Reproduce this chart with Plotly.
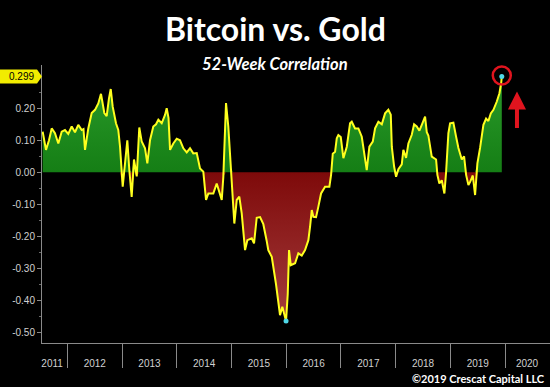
import plotly.graph_objects as go

# ---- data (decimal year, 52-week correlation) ----
years = [2011.548, 2011.609, 2011.664, 2011.713, 2011.773, 2011.834, 2011.896, 2011.956,
         2012.016, 2012.079, 2012.139, 2012.199, 2012.261, 2012.294, 2012.322, 2012.382,
         2012.444, 2012.505, 2012.565, 2012.614, 2012.675, 2012.718, 2012.760, 2012.792,
         2012.828, 2012.888, 2012.930, 2012.962, 2013.011, 2013.047, 2013.095, 2013.132,
         2013.175, 2013.217, 2013.267, 2013.314, 2013.358, 2013.419, 2013.461, 2013.510,
         2013.570, 2013.620, 2013.662, 2013.724, 2013.784, 2013.815, 2013.848, 2013.876,
         2013.936, 2013.998, 2014.058, 2014.119, 2014.181, 2014.241, 2014.301, 2014.364,
         2014.424, 2014.484, 2014.534, 2014.576, 2014.667, 2014.729, 2014.758, 2014.821,
         2014.850, 2014.899, 2014.941, 2014.985, 2015.022, 2015.051, 2015.095, 2015.142,
         2015.186, 2015.216, 2015.247, 2015.289, 2015.369, 2015.411, 2015.460, 2015.521,
         2015.581, 2015.640, 2015.672, 2015.735, 2015.777, 2015.813, 2015.855, 2015.886,
         2015.928, 2015.965, 2015.996, 2016.027, 2016.051, 2016.082, 2016.161, 2016.221,
         2016.283, 2016.343, 2016.404, 2016.435, 2016.466, 2016.495, 2016.544, 2016.586,
         2016.636, 2016.709, 2016.788, 2016.819, 2016.850, 2016.892, 2016.923, 2016.952,
         2016.996, 2017.044, 2017.106, 2017.166, 2017.197, 2017.257, 2017.318, 2017.380,
         2017.422, 2017.471, 2017.519, 2017.581, 2017.623, 2017.684, 2017.746, 2017.806,
         2017.866, 2017.910, 2017.929, 2017.971, 2018.007, 2018.049, 2018.111, 2018.140,
         2018.190, 2018.232, 2018.294, 2018.336, 2018.385, 2018.433, 2018.477, 2018.537,
         2018.568, 2018.597, 2018.659, 2018.689, 2018.738, 2018.762, 2018.798, 2018.842,
         2018.890, 2018.921, 2018.963, 2018.994, 2019.054, 2019.104, 2019.146, 2019.208,
         2019.250, 2019.287, 2019.329, 2019.360, 2019.409, 2019.451, 2019.493, 2019.542,
         2019.603, 2019.652, 2019.694, 2019.738, 2019.786, 2019.848, 2019.896, 2019.927,
         2019.939]
corr = [0.127, 0.070, 0.100, 0.137, 0.122, 0.090, 0.127, 0.132,
        0.120, 0.143, 0.125, 0.148, 0.132, 0.135, 0.070, 0.137,
        0.185, 0.195, 0.215, 0.245, 0.185, 0.175, 0.231, 0.260,
        0.205, 0.153, 0.132, 0.080, -0.045, 0.018, 0.100, 0.007,
        -0.077, 0.040, -0.013, 0.140, 0.096, 0.075, 0.028, 0.100,
        0.143, 0.150, 0.164, 0.153, 0.179, 0.200, 0.170, 0.070,
        0.090, 0.105, 0.100, 0.075, 0.062, 0.075, 0.059, 0.060,
        0.012, 0.002, -0.086, -0.066, -0.066, -0.035, -0.050, -0.086,
        -0.014, 0.216, 0.143, 0.017, -0.076, -0.160, -0.086, -0.076,
        -0.128, -0.190, -0.243, -0.212, -0.206, -0.222, -0.142, -0.140,
        -0.162, -0.212, -0.243, -0.264, -0.305, -0.350, -0.405, -0.446,
        -0.420, -0.440, -0.464, -0.380, -0.243, -0.290, -0.284, -0.253,
        -0.260, -0.243, -0.212, -0.170, -0.118, -0.139, -0.140, -0.108,
        -0.066, -0.045, -0.045, -0.008, 0.058, 0.064, 0.106, 0.116,
        0.110, 0.044, 0.080, 0.153, 0.158, 0.137, 0.137, 0.111,
        0.059, 0.007, 0.080, 0.096, 0.137, 0.158, 0.150, 0.184,
        0.195, 0.180, 0.080, 0.018, -0.014, 0.010, 0.025, 0.070,
        0.045, 0.090, 0.117, 0.150, 0.143, 0.130, 0.148, 0.174,
        0.125, 0.115, 0.049, 0.045, 0.040, -0.008, -0.035, -0.025,
        -0.066, 0.000, 0.122, 0.153, 0.155, 0.111, 0.076, 0.040,
        0.050, -0.008, -0.040, -0.030, -0.010, -0.071, 0.028, 0.076,
        0.148, 0.168, 0.160, 0.184, 0.195, 0.221, 0.247, 0.278,
        0.299]

year_bounds = [2012, 2013, 2014, 2015, 2016, 2017, 2018, 2019, 2020]
x_label_pos = [2011.72, 2012.5, 2013.5, 2014.5, 2015.5, 2016.5, 2017.5, 2018.5, 2019.5, 2020.4]
x_label_text = ["2011", "2012", "2013", "2014", "2015", "2016", "2017", "2018", "2019", "2020"]
y_tick_vals = [0.2, 0.1, 0.0, -0.1, -0.2, -0.3, -0.4, -0.5]
y_tick_text = ["0.20", "0.10", "0.00", "-0.10", "-0.20", "-0.30", "-0.40", "-0.50"]

pos = [max(v, 0.0) for v in corr]
neg = [min(v, 0.0) for v in corr]
i_min = corr.index(min(corr))

fig = go.Figure()
fig.add_trace(go.Scatter(
    x=years, y=pos, mode="none", fill="tozeroy", hoverinfo="skip",
    fillgradient=dict(type="vertical", colorscale=[[0, "#157e15"], [1, "#2a9a2a"]]),
))
fig.add_trace(go.Scatter(
    x=years, y=neg, mode="none", fill="tozeroy", hoverinfo="skip",
    fillgradient=dict(type="vertical", colorscale=[[0, "#a43c3c"], [1, "#7e0a0a"]]),
))
fig.add_trace(go.Scatter(
    x=years, y=corr, mode="lines", line=dict(color="#ffff1e", width=2), hoverinfo="skip",
))
fig.add_trace(go.Scatter(
    x=[years[i_min], years[-1]], y=[corr[i_min], corr[-1]], mode="markers",
    marker=dict(color="#4fd8e8", size=5), hoverinfo="skip",
))

axis_font = dict(family="Liberation Sans, Arial, sans-serif", size=10, color="#d0d0d0")

fig.update_layout(
    width=550, height=387,
    margin=dict(l=42, r=0, t=65, b=44),
    paper_bgcolor="black", plot_bgcolor="black",
    showlegend=False,
    xaxis=dict(
        range=[2011.536, 2020.82], showgrid=False, zeroline=False,
        showline=True, linecolor="#8a8a8a", linewidth=1,
        tickmode="array", tickvals=x_label_pos, ticktext=x_label_text,
        ticks="outside", ticklen=11, tickcolor="rgba(0,0,0,0)",
        tickfont=axis_font,
        minor=dict(tickmode="array", tickvals=year_bounds, ticks="outside",
                   ticklen=24, tickcolor="#8a8a8a", tickwidth=1, showgrid=False),
    ),
    yaxis=dict(
        range=[-0.533, 0.335], showgrid=False, zeroline=False,
        showline=True, linecolor="#8a8a8a", linewidth=1,
        tickmode="array", tickvals=y_tick_vals, ticktext=y_tick_text,
        ticks="outside", ticklen=4, tickcolor="#8a8a8a",
        tickfont=axis_font,
        minor=dict(dtick=0.05, ticks="outside", ticklen=2, tickcolor="#6a6a6a", showgrid=False),
    ),
)

# last-value tag on the y axis
fig.add_shape(
    type="path", xref="paper", yref="y", xsizemode="pixel", ysizemode="pixel",
    xanchor=0, yanchor=corr[-1],
    path="M -42,-7 L -5,-7 L 0,0 L -5,7 L -42,7 Z",
    fillcolor="#f2ec00", line=dict(width=0),
)
fig.add_annotation(
    x=0, xref="paper", y=corr[-1], yref="y", xanchor="right", xshift=-6,
    text=f"{corr[-1]:.3f}", showarrow=False,
    font=dict(family="Liberation Sans, Arial, sans-serif", size=10, color="black"),
)

# red circle around the last point
fig.add_shape(
    type="circle", xref="x", yref="y", xsizemode="pixel", ysizemode="pixel",
    xanchor=years[-1], yanchor=corr[-1], x0=-9, x1=9, y0=-8, y1=10,
    line=dict(color="#e0141e", width=2.5),
)
# red arrow
fig.add_annotation(
    x=0.935, xref="paper", y=0.905, yref="paper", ax=0, ay=38,
    showarrow=True, arrowhead=2, arrowsize=0.9, arrowwidth=4, arrowcolor="#e0141e", text="",
)

# titles
fig.add_annotation(
    x=0.459, xref="paper", y=1.13, yref="paper", xanchor="center", yanchor="middle",
    text="<b>Bitcoin vs. Gold</b>", showarrow=False,
    font=dict(family="Lato, sans-serif", size=32, color="white"),
)
fig.add_annotation(
    x=0.459, xref="paper", y=1.004, yref="paper", xanchor="center", yanchor="middle",
    text="<b><i>52-Week Correlation</i></b>", showarrow=False,
    font=dict(family="Lato, sans-serif", size=16.5, color="white"),
)
fig.add_annotation(
    x=0.994, xref="paper", y=-0.126, yref="paper", xanchor="right", yanchor="middle",
    text="<b>©2019 Crescat Capital LLC</b>", showarrow=False,
    font=dict(family="Lato, sans-serif", size=11, color="white"),
)

fig.write_html("out.html",
               config={"displayModeBar": False, "staticPlot": True},
               post_script="document.body.style.margin='0';document.body.style.padding='0';")
